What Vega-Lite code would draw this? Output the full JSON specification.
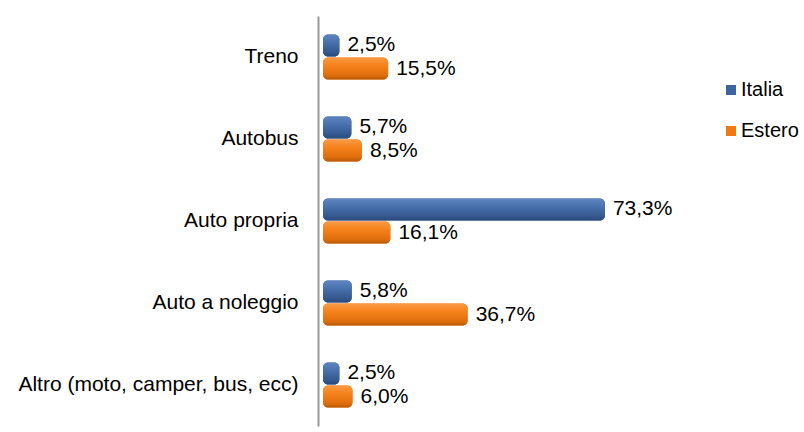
{
  "$schema": "https://vega.github.io/schema/vega-lite/v6.json",
  "autosize": "none",
  "width": 375,
  "height": 410,
  "padding": {"left": 323, "top": 16, "right": 106, "bottom": 6},
  "background": "white",
  "config": {
    "locale": {"number": {"decimal": ",", "thousands": ".", "grouping": [3], "currency": ["€", ""]}},
    "view": {"stroke": null},
    "font": "Liberation Sans"
  },
  "data": {
    "values": [
      {"mezzo": "Treno", "serie": "Italia", "valore": 0.025},
      {"mezzo": "Treno", "serie": "Estero", "valore": 0.155},
      {"mezzo": "Autobus", "serie": "Italia", "valore": 0.057},
      {"mezzo": "Autobus", "serie": "Estero", "valore": 0.085},
      {"mezzo": "Auto propria", "serie": "Italia", "valore": 0.733},
      {"mezzo": "Auto propria", "serie": "Estero", "valore": 0.161},
      {"mezzo": "Auto a noleggio", "serie": "Italia", "valore": 0.058},
      {"mezzo": "Auto a noleggio", "serie": "Estero", "valore": 0.367},
      {"mezzo": "Altro (moto, camper, bus, ecc)", "serie": "Italia", "valore": 0.025},
      {"mezzo": "Altro (moto, camper, bus, ecc)", "serie": "Estero", "valore": 0.06}
    ]
  },
  "encoding": {
    "y": {
      "field": "mezzo", "type": "nominal", "sort": null,
      "scale": {"paddingInner": 0.45, "paddingOuter": 0.225},
      "axis": {"title": null, "ticks": false, "offset": 5, "labelPadding": 20, "labelFontSize": 21, "labelColor": "#000", "domainColor": "#999999", "domainWidth": 2, "labelLimit": 400}
    },
    "yOffset": {"field": "serie", "type": "nominal", "sort": ["Italia", "Estero"], "scale": {"paddingInner": 0.05}},
    "x": {"field": "valore", "type": "quantitative", "scale": {"domain": [0, 1]}, "axis": null}
  },
  "layer": [
    {
      "mark": {"type": "bar", "cornerRadius": 5, "xOffset": 7},
      "encoding": {
        "x2": {"datum": 0},
        "color": {
          "field": "serie", "type": "nominal",
          "scale": {"domain": ["Italia", "Estero"], "range": ["#3C64A0", "#F07A12"]},
          "legend": {"title": null, "orient": "none", "legendX": 398, "legendY": 64, "symbolType": "square", "symbolSize": 100, "labelFontSize": 20, "rowPadding": 21, "symbolStrokeWidth": 0, "labelOffset": 0}
        }
      }
    },
    {
      "transform": [{"filter": "datum.serie === 'Italia'"}],
      "mark": {"type": "bar", "cornerRadius": 5, "xOffset": 7,
        "color": {"gradient": "linear", "x1": 0, "y1": 0, "x2": 0, "y2": 1,
          "stops": [{"offset": 0, "color": "#5F86C0"}, {"offset": 0.35, "color": "#4A72AE"}, {"offset": 0.8, "color": "#35598F"}, {"offset": 1, "color": "#2A4A7A"}]}},
      "encoding": {"x2": {"datum": 0}}
    },
    {
      "transform": [{"filter": "datum.serie === 'Estero'"}],
      "mark": {"type": "bar", "cornerRadius": 5, "xOffset": 7,
        "color": {"gradient": "linear", "x1": 0, "y1": 0, "x2": 0, "y2": 1,
          "stops": [{"offset": 0, "color": "#FA9A45"}, {"offset": 0.35, "color": "#F5821C"}, {"offset": 0.8, "color": "#E06E0C"}, {"offset": 1, "color": "#B85A0A"}]}},
      "encoding": {"x2": {"datum": 0}}
    },
    {
      "mark": {"type": "text", "align": "left", "dx": 15, "fontSize": 21, "color": "#000"},
      "encoding": {"text": {"field": "valore", "type": "quantitative", "format": ".1%"}}
    }
  ]
}
